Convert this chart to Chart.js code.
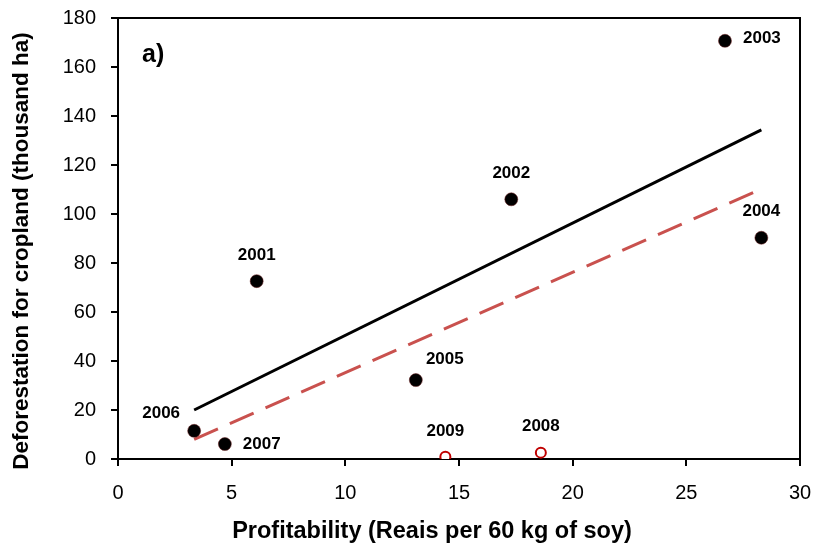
<!DOCTYPE html>
<html>
<head>
<meta charset="utf-8">
<script src="https://cdn.jsdelivr.net/npm/chart.js@4/dist/chart.umd.min.js"></script>
<style>
  html, body { margin: 0; padding: 0; background: #fff; }
  #wrap { width: 817px; height: 550px; }
</style>
</head>
<body>
<div id="wrap"><canvas id="c" width="817" height="550"></canvas></div>
<script>
// years with filled points (2001-2007)
const yearsA = ["2001", "2002", "2003", "2004", "2005", "2006", "2007"];
const profitA = [6.1, 17.3, 26.7, 28.3, 13.1, 3.35, 4.7];
const deforA = [72.6, 106, 170.7, 90.3, 32.2, 11.5, 6.1];

// years with open points (2008-2009)
const yearsB = ["2008", "2009"];
const profitB = [18.6, 14.4];
const deforB = [2.6, 0.9];

// fitted lines, endpoints
const fitX = [3.35, 28.3];
const fitSolid = [20, 134.3];
const fitDashed = [8, 110.2];

const xTicks = [0, 5, 10, 15, 20, 25, 30];
const yTicks = [0, 20, 40, 60, 80, 100, 120, 140, 160, 180];

const xTitle = "Profitability (Reais per 60 kg of soy)";
const yTitle = "Deforestation for cropland (thousand ha)";

const FONT = "'Liberation Sans', Arial, sans-serif";

// label offsets (px) relative to each point: [dx, dy, align]
const labelPos = {
  "2001": [0, -26, "center"], "2002": [0, -26, "center"], "2003": [18, -2, "left"],
  "2004": [0, -26, "center"], "2005": [29, -21, "center"], "2006": [-33, -18, "center"],
  "2007": [18, 0, "left"], "2008": [0, -26, "center"], "2009": [0, -25, "center"]
};

const toPts = (xs, ys) => xs.map((x, i) => ({ x, y: ys[i] }));

// keep tick labels from pushing the plot area in
const noPad = (s) => { s.paddingTop = 0; s.paddingBottom = 0; s.paddingLeft = 0; s.paddingRight = 0; };

const labelPlugin = {
  id: "labels",
  afterDatasetsDraw(chart) {
    const ctx = chart.ctx;
    const xs = chart.scales.x, ys = chart.scales.y;
    const a = chart.chartArea;
    ctx.save();
    ctx.fillStyle = "#000";
    ctx.font = "bold 17px " + FONT;
    ctx.textBaseline = "middle";
    const draw = (years, px, py) => years.forEach((yr, i) => {
      const [dx, dy, al] = labelPos[yr];
      ctx.textAlign = al;
      ctx.fillText(yr, xs.getPixelForValue(px[i]) + dx, ys.getPixelForValue(py[i]) + dy);
    });
    draw(yearsA, profitA, deforA);
    draw(yearsB, profitB, deforB);
    // panel letter
    ctx.font = "bold 25px " + FONT;
    ctx.textAlign = "left";
    ctx.fillText("a)", a.left + 24, a.top + 37);
    // axis titles
    ctx.textAlign = "center";
    ctx.font = "bold 23.5px " + FONT;
    ctx.fillText(xTitle, 432, 532);
    ctx.save();
    ctx.translate(21.5, 251);
    ctx.rotate(-Math.PI / 2);
    ctx.font = "bold 22.5px " + FONT;
    ctx.fillText(yTitle, 0, 0);
    ctx.restore();
    // top and right frame
    ctx.strokeStyle = "#000";
    ctx.lineWidth = 2;
    ctx.beginPath();
    ctx.moveTo(a.left, a.top);
    ctx.lineTo(a.right, a.top);
    ctx.lineTo(a.right, a.bottom);
    ctx.stroke();
    ctx.restore();
  }
};

new Chart(document.getElementById("c"), {
  type: "scatter",
  data: {
    datasets: [
      {
        label: "2001-2007",
        data: toPts(profitA, deforA),
        backgroundColor: "#000",
        borderColor: "#6b1a1a",
        borderWidth: 0.5,
        pointRadius: 6.5,
        order: 1
      },
      {
        label: "2008-2009",
        data: toPts(profitB, deforB),
        backgroundColor: "#fff",
        borderColor: "#c00000",
        borderWidth: 2,
        pointRadius: 5,
        order: 1
      },
      {
        type: "line",
        label: "fit",
        data: toPts(fitX, fitSolid),
        borderColor: "#000",
        borderWidth: 3,
        pointRadius: 0,
        order: 2
      },
      {
        type: "line",
        label: "fit dashed",
        data: toPts(fitX, fitDashed),
        borderColor: "#c9514e",
        borderWidth: 3,
        borderDash: [26, 13],
        pointRadius: 0,
        order: 2
      }
    ]
  },
  options: {
    responsive: false,
    animation: false,
    layout: { padding: { top: 18, right: 17, left: 0, bottom: 0 } },
    plugins: { legend: { display: false }, tooltip: { enabled: false } },
    scales: {
      x: {
        type: "linear",
        min: 0, max: 30,
        afterBuildTicks: (s) => { s.ticks = xTicks.map((v) => ({ value: v })); },
        afterFit: (s) => { s.height = 91; noPad(s); },
        grid: { drawOnChartArea: false, drawTicks: true, tickLength: 7, color: "#000", lineWidth: 2 },
        border: { color: "#000", width: 2 },
        ticks: { color: "#000", padding: 15, font: { size: 20, family: FONT } },
        title: { display: false }
      },
      y: {
        type: "linear",
        min: 0, max: 180,
        afterBuildTicks: (s) => { s.ticks = yTicks.map((v) => ({ value: v })); },
        afterFit: (s) => { s.width = 118; noPad(s); },
        grid: { drawOnChartArea: false, drawTicks: true, tickLength: 7, color: "#000", lineWidth: 2 },
        border: { color: "#000", width: 2 },
        ticks: { color: "#000", padding: 15, font: { size: 20, family: FONT } },
        title: { display: false }
      }
    }
  },
  plugins: [labelPlugin]
});
</script>
</body>
</html>
